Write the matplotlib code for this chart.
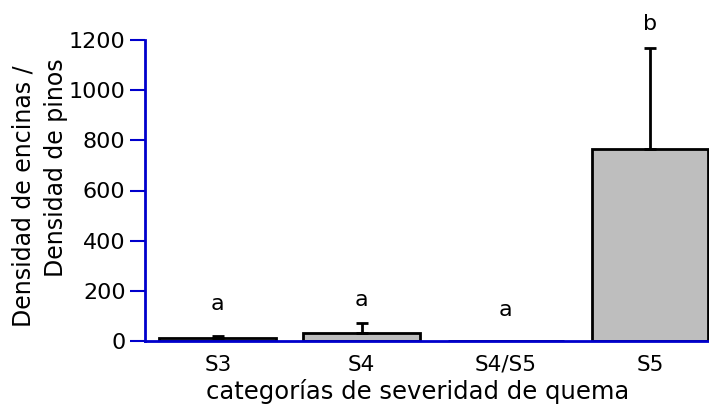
import matplotlib
matplotlib.use('Agg')
import matplotlib.pyplot as plt
import numpy as np

categories = ['S3', 'S4', 'S4/S5', 'S5']
means = [10, 33, 0, 764]
err_upper = [10, 40, 0, 403]
letters = ['a', 'a', 'a', 'b']
letter_y = [147, 163, 124, 1264]

blue = '#0000CC'

fig = plt.figure(figsize=(7.09, 4.07), dpi=100)
ax = fig.add_axes([145 / 709, 1 - 341 / 407, 1 - 145 / 709, (341 - 40) / 407])

x = np.arange(len(categories))
ax.bar(x, means, width=0.81, color='#BEBEBE', edgecolor='black', linewidth=2, zorder=2)
ax.errorbar(x, means, yerr=[np.zeros(len(means)), err_upper], fmt='none',
            ecolor='black', elinewidth=2, capsize=4, capthick=2, zorder=3)

for xi, lab, ly in zip(x, letters, letter_y):
    ax.text(xi, ly, lab, ha='center', va='center', fontsize=16)

ax.set_xlim(-0.505, 3.41)
ax.set_ylim(0, 1200)
ax.set_yticks([0, 200, 400, 600, 800, 1000, 1200])
ax.set_xticks(x)
ax.set_xticklabels(categories, fontsize=15.5)
ax.tick_params(axis='y', labelsize=16, color=blue, length=11, width=1.5, pad=3)
ax.tick_params(axis='x', length=0, pad=10)

for s in ['top', 'right']:
    ax.spines[s].set_visible(False)
for s in ['left', 'bottom']:
    ax.spines[s].set_color(blue)
    ax.spines[s].set_linewidth(2)
ax.spines['bottom'].set_zorder(4)

fig.text(418 / 709, 1 - 391 / 407, 'categorías de severidad de quema',
         ha='center', va='center', fontsize=17.5)
fig.text(24 / 709, 1 - 65 / 407, 'Densidad de encinas /', rotation=90,
         ha='center', va='top', fontsize=17)
fig.text(56 / 709, 1 - 58 / 407, 'Densidad de pinos', rotation=90,
         ha='center', va='top', fontsize=17)

fig.savefig('out.png', dpi=100)
